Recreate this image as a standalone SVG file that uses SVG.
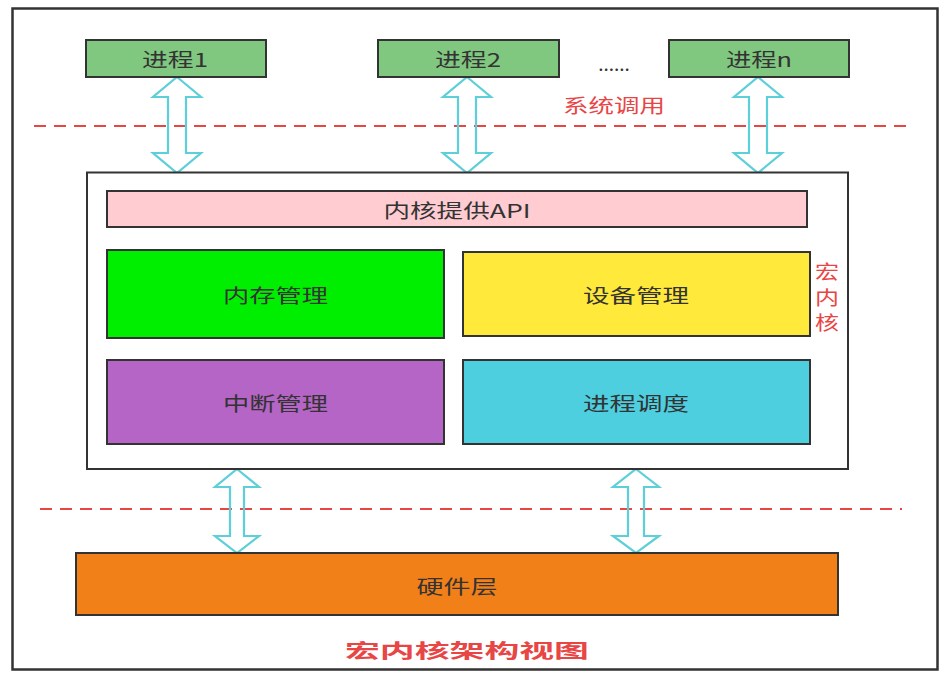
<svg xmlns="http://www.w3.org/2000/svg" width="947" height="680" viewBox="0 0 947 680">
<style>
.box{stroke:#333;stroke-width:2}
.lbl{font-family:"Noto Sans CJK SC","Liberation Sans",sans-serif;font-size:19px;fill:#333;text-anchor:middle;dominant-baseline:central}
.red{fill:#e84545}
.dash{stroke:#e84545;stroke-width:2;stroke-dasharray:12 8;fill:none}
.arr{fill:none;stroke:#5ccfd9;stroke-width:2.2;stroke-linejoin:miter}
</style>
<rect x="0" y="0" width="947" height="680" fill="#ffffff"/>
<rect id="frame" x="12.5" y="8.5" width="925" height="661" fill="#ffffff" stroke="#333" stroke-width="2.5"/>

<g id="connectors">
  <line class="dash" x1="34" y1="126" x2="914" y2="126"/>
  <line class="dash" x1="40" y1="509" x2="902" y2="509"/>
  <path class="arr" d="M177,77 L201,97 L186,97 L186,153 L201,153 L177,173 L153,153 L168,153 L168,97 L153,97 Z"/>
  <path class="arr" d="M467,77 L491,97 L476,97 L476,153 L491,153 L467,173 L443,153 L458,153 L458,97 L443,97 Z"/>
  <path class="arr" d="M758,77 L782,97 L767,97 L767,153 L782,153 L758,173 L734,153 L749,153 L749,97 L734,97 Z"/>
  <path class="arr" d="M237,469 L259,487 L244,487 L244,536 L259,536 L237,553 L215,536 L230,536 L230,487 L215,487 Z"/>
  <path class="arr" d="M636,469 L659,487 L644,487 L644,536 L659,536 L636,553 L613,536 L628,536 L628,487 L613,487 Z"/>
</g>

<g id="proc1">
  <rect class="box" x="86" y="40" width="180" height="37" fill="#80c77f"/>
  <text class="lbl" x="175" y="58" textLength="66" lengthAdjust="spacingAndGlyphs">进程1</text>
</g>
<g id="proc2">
  <rect class="box" x="378" y="40" width="181" height="37" fill="#80c77f"/>
  <text class="lbl" x="468" y="58" textLength="66" lengthAdjust="spacingAndGlyphs">进程2</text>
</g>
<g id="dots">
  <text class="lbl" x="614" y="62" font-size="18">......</text>
</g>
<g id="procn">
  <rect class="box" x="669" y="40" width="180" height="37" fill="#80c77f"/>
  <text class="lbl" x="759" y="58" textLength="66" lengthAdjust="spacingAndGlyphs">进程n</text>
</g>
<g id="syscall">
  <text class="lbl red" x="614" y="104" textLength="102" lengthAdjust="spacingAndGlyphs">系统调用</text>
</g>

<g id="kernel">
  <rect x="87" y="172.5" width="761" height="296.5" fill="#ffffff" stroke="#333" stroke-width="2"/>
</g>
<g id="api">
  <rect class="box" x="107" y="191" width="700" height="36" fill="#ffccd2"/>
  <text class="lbl" x="457" y="209" textLength="147" lengthAdjust="spacingAndGlyphs">内核提供API</text>
</g>
<g id="mem">
  <rect class="box" x="107" y="250" width="337" height="88" fill="#00ee00"/>
  <text class="lbl" x="275.5" y="294" textLength="105" lengthAdjust="spacingAndGlyphs">内存管理</text>
</g>
<g id="dev">
  <rect class="box" x="463" y="252" width="347" height="84" fill="#ffe93a"/>
  <text class="lbl" x="636" y="294" textLength="106" lengthAdjust="spacingAndGlyphs">设备管理</text>
</g>
<g id="irq">
  <rect class="box" x="107" y="360" width="337" height="84" fill="#b565c6"/>
  <text class="lbl" x="275.5" y="402" textLength="105" lengthAdjust="spacingAndGlyphs">中断管理</text>
</g>
<g id="sched">
  <rect class="box" x="463" y="360" width="347" height="84" fill="#4dcfe0"/>
  <text class="lbl" x="636" y="402" textLength="106" lengthAdjust="spacingAndGlyphs">进程调度</text>
</g>
<g id="kernel-label">
  <text class="lbl red" x="827" y="270" textLength="24" lengthAdjust="spacingAndGlyphs">宏</text>
  <text class="lbl red" x="827" y="296" textLength="24" lengthAdjust="spacingAndGlyphs">内</text>
  <text class="lbl red" x="827" y="321" textLength="24" lengthAdjust="spacingAndGlyphs">核</text>
</g>

<g id="hw">
  <rect class="box" x="76" y="553" width="762" height="62" fill="#f28019"/>
  <text class="lbl" x="457" y="585" textLength="81" lengthAdjust="spacingAndGlyphs">硬件层</text>
</g>
<g id="title">
  <text class="lbl red" x="467" y="649" font-size="27" font-weight="bold" textLength="244" lengthAdjust="spacingAndGlyphs">宏内核架构视图</text>
</g>
</svg>
